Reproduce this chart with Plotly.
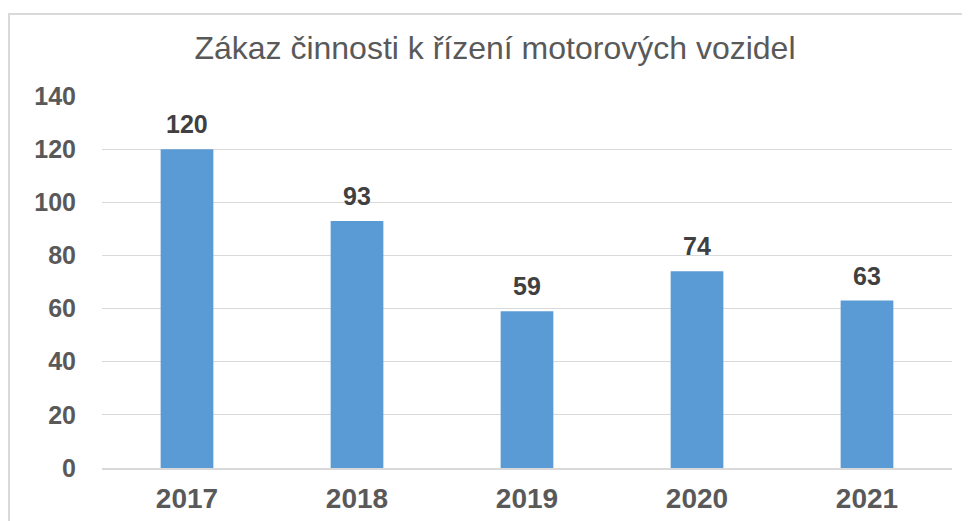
import plotly.graph_objects as go

years = ["2017", "2018", "2019", "2020", "2021"]
values = [120, 93, 59, 74, 63]
y_ticks = [0, 20, 40, 60, 80, 100, 120, 140]
title_text = "Zákaz činnosti k řízení motorových vozidel"

FONT = "Arial, Liberation Sans, sans-serif"

fig = go.Figure()
fig.add_trace(go.Bar(
    x=years, y=values,
    marker=dict(color="#5B9BD5", line=dict(width=0)),
    hoverinfo="x+y",
))

for i, v in enumerate(values):
    fig.add_annotation(
        x=i, y=v, xref="x", yref="y", text=str(v), showarrow=False,
        yanchor="bottom", yshift=9,
        font=dict(family=FONT, size=25, color="#404040", weight="bold"),
    )

# light border frame around the chart area
fig.add_shape(
    type="rect", xref="paper", yref="paper",
    x0=-0.1094, x1=1.05, y0=-0.2, y1=1.2204,
    line=dict(color="#D9D9D9", width=2), fillcolor="rgba(0,0,0,0)",
    layer="below",
)

fig.update_layout(
    width=970, height=521,
    paper_bgcolor="white", plot_bgcolor="white",
    margin=dict(l=94, r=26, t=88, b=61),
    bargap=0.69,
    showlegend=False,
    title=dict(
        text=title_text, x=0.502, xanchor="center", y=0.923, yanchor="middle",
        font=dict(family=FONT, size=32, color="#595959"),
    ),
    xaxis=dict(
        type="category", range=[-0.5, len(years) - 0.5], automargin=False,
        showgrid=False, showline=True, linecolor="#D9D9D9", linewidth=1.5,
        ticks="", tickfont=dict(family=FONT, size=28, color="#595959", weight="bold"),
        ticklabelstandoff=5,
    ),
    yaxis=dict(
        range=[0, 140], tickvals=y_ticks, showgrid=True, gridcolor="#D9D9D9",
        gridwidth=1, zeroline=False, showline=False, ticks="", automargin=False,
        tickfont=dict(family=FONT, size=25, color="#595959", weight="bold"),
        ticklabelstandoff=25,
    ),
)

fig.write_html("out.html")
